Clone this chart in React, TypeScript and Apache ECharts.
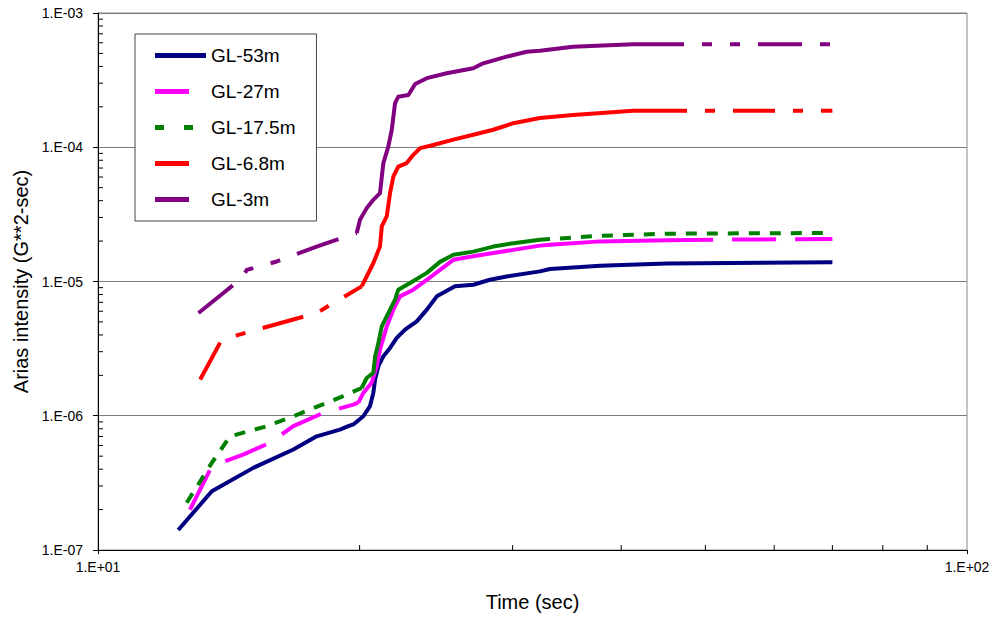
import React, { useEffect, useRef } from 'react';
import * as echarts from 'echarts';

// ---- Data ----
const xMin = 10;
const xMax = 100;
const yMin = 1e-7;
const yMax = 1e-3;

const seriesNames = ['GL-53m', 'GL-27m', 'GL-17.5m', 'GL-6.8m', 'GL-3m'];

const gl53T = [12.37, 13.52, 15.09, 16.78, 17.85, 18.98, 19.41, 19.67, 20.2, 20.56, 20.74, 20.84, 21.02, 21.3, 21.68, 22.07, 22.56, 23.27, 23.9, 24.54, 25.75, 27.03, 28.25, 29.53, 32.25, 33.12, 37.82, 45.16, 70.0];
const gl53I = [1.41e-7, 2.74e-7, 4.09e-7, 5.61e-7, 7.03e-7, 7.89e-7, 8.36e-7, 8.61e-7, 9.91e-7, 1.18e-6, 1.48e-6, 1.86e-6, 2.34e-6, 2.77e-6, 3.2e-6, 3.8e-6, 4.38e-6, 5.05e-6, 6.17e-6, 7.75e-6, 9.2e-6, 9.46e-6, 1.03e-5, 1.09e-5, 1.19e-5, 1.24e-5, 1.31e-5, 1.36e-5, 1.39e-5];

const gl27T = [12.76, 13.52, 14.69, 15.77, 16.78, 18.16, 19.67, 19.93, 20.2, 20.65, 20.93, 21.11, 21.49, 21.87, 22.26, 23.06, 23.9, 24.75, 25.64, 27.03, 28.5, 30.05, 32.25, 33.12, 37.82, 45.16, 51.03, 70.0];
const gl27I = [2.0e-7, 4.21e-7, 5.14e-7, 6.29e-7, 8.36e-7, 1.05e-6, 1.21e-6, 1.25e-6, 1.48e-6, 1.76e-6, 2.34e-6, 3.11e-6, 4.63e-6, 6.17e-6, 7.75e-6, 8.69e-6, 1.03e-5, 1.22e-5, 1.45e-5, 1.54e-5, 1.63e-5, 1.72e-5, 1.85e-5, 1.88e-5, 1.99e-5, 2.03e-5, 2.05e-5, 2.07e-5];
const gl27Dense = [19.93, 51.03];

const gl175T = [12.65, 13.52, 14.19, 15.64, 16.78, 19.15, 20.11, 20.38, 20.74, 20.84, 21.02, 21.21, 21.49, 21.97, 22.16, 22.86, 23.9, 24.75, 25.64, 27.03, 28.5, 30.05, 32.25, 33.12, 37.82, 45.16, 70.0];
const gl175I = [2.25e-7, 4.46e-7, 7.03e-7, 8.36e-7, 9.91e-7, 1.4e-6, 1.61e-6, 1.91e-6, 2.09e-6, 2.77e-6, 3.49e-6, 4.63e-6, 5.5e-6, 7.32e-6, 8.69e-6, 9.75e-6, 1.16e-5, 1.4e-5, 1.58e-5, 1.67e-5, 1.82e-5, 1.93e-5, 2.05e-5, 2.07e-5, 2.19e-5, 2.27e-5, 2.3e-5];
const gl175Dense = [20.11, 33.12];

const gl68T = [13.11, 13.88, 15.23, 17.85, 20.11, 20.38, 20.74, 21.11, 21.21, 21.49, 21.68, 21.87, 22.16, 22.66, 23.06, 23.48, 24.31, 25.64, 27.03, 28.5, 30.05, 32.25, 35.21, 41.27, 47.62, 70.0];
const gl68I = [1.86e-6, 3.69e-6, 4.38e-6, 5.83e-6, 9.2e-6, 1.09e-5, 1.37e-5, 1.82e-5, 2.57e-5, 3.05e-5, 4.55e-5, 6.05e-5, 7.18e-5, 7.62e-5, 8.78e-5, 9.85e-5, 1.04e-4, 1.14e-4, 1.24e-4, 1.35e-4, 1.51e-4, 1.65e-4, 1.74e-4, 1.87e-4, 1.87e-4, 1.87e-4];
const gl68Dense = [20.11, 47.62];

const gl3T = [13.05, 13.94, 14.64, 14.83, 16.06, 17.85, 19.85, 20.02, 20.38, 20.74, 21.11, 21.3, 21.58, 21.78, 21.97, 22.16, 22.76, 23.17, 23.9, 25.19, 27.03, 27.75, 29.53, 31.13, 32.25, 35.21, 41.27, 47.24, 70.0];
const gl3I = [5.83e-6, 8.21e-6, 1.06e-5, 1.22e-5, 1.41e-5, 1.82e-5, 2.3e-5, 2.88e-5, 3.52e-5, 4.06e-5, 4.55e-5, 7.62e-5, 1.01e-4, 1.35e-4, 2.13e-4, 2.38e-4, 2.45e-4, 2.96e-4, 3.27e-4, 3.56e-4, 3.88e-4, 4.22e-4, 4.73e-4, 5.15e-4, 5.24e-4, 5.61e-4, 5.85e-4, 5.85e-4, 5.85e-4];
const gl3Dense = [19.85, 47.24];

const xMinorTicks = [20, 30, 40, 50, 60, 70, 80, 90];
const yMinorTicks = [
  2e-7, 3e-7, 4e-7, 5e-7, 6e-7, 7e-7, 8e-7, 9e-7,
  2e-6, 3e-6, 4e-6, 5e-6, 6e-6, 7e-6, 8e-6, 9e-6,
  2e-5, 3e-5, 4e-5, 5e-5, 6e-5, 7e-5, 8e-5, 9e-5,
  2e-4, 3e-4, 4e-4, 5e-4, 6e-4, 7e-4, 8e-4, 9e-4,
];

// ---- Helpers ----
const FONT = '"Liberation Sans", Arial, sans-serif';

const pairs = (t: number[], v: number[]) => t.map((x, i) => [x, v[i]]);
const seg = (t: number[], v: number[], from: number, to: number) =>
  pairs(t, v).filter((p) => p[0] >= from && p[0] <= to);

const sciLabel = (val: number) => {
  const e = Math.round(Math.log10(val));
  const sign = e < 0 ? '-' : '+';
  return `1.E${sign}${String(Math.abs(e)).padStart(2, '0')}`;
};

const line = (name: string, color: string, data: number[][], type: any, dashOffset = 0) => ({
  type: 'line',
  name,
  data,
  symbol: 'none',
  showSymbol: false,
  silent: true,
  z: 3,
  itemStyle: { color },
  lineStyle: { color, width: 4, type, dashOffset, cap: 'butt', join: 'round' },
});

// legend icon shapes (solid bar, short bar, dashed bar); trailing zero-length
// segment keeps the icon box at the full item width
const ICON_FULL = 'path://M0,0H51V5H0Z';
const ICON_SHORT = 'path://M0,0H34V5H0Z M51,5L51,5';
const ICON_DASHED = 'path://M0,0H9V5H0Z M29,0H38V5H29Z M51,5L51,5';

export default function App() {
  const ref = useRef<HTMLDivElement>(null);

  useEffect(() => {
    if (!ref.current) return;
    const chart = echarts.init(ref.current, null, { renderer: 'svg' });

    const colors = {
      'GL-53m': '#000080',
      'GL-27m': '#FF00FF',
      'GL-17.5m': '#008000',
      'GL-6.8m': '#FF0000',
      'GL-3m': '#800080',
    } as Record<string, string>;

    const dash27 = [44, 19];
    const dash175 = [11, 10];
    const dash68 = [42, 18, 10, 18];
    const dash3 = [44, 18, 10, 18, 10, 18];

    const series: any[] = [
      line('GL-53m', colors['GL-53m'], pairs(gl53T, gl53I), 'solid'),

      line('GL-27m', colors['GL-27m'], seg(gl27T, gl27I, gl27Dense[0], gl27Dense[1]), 'solid'),
      line('GL-27m', colors['GL-27m'], seg(gl27T, gl27I, 0, gl27Dense[0]), dash27),
      line('GL-27m', colors['GL-27m'], seg(gl27T, gl27I, gl27Dense[1], 1000), dash27, 44),

      line('GL-17.5m', colors['GL-17.5m'], seg(gl175T, gl175I, gl175Dense[0], gl175Dense[1]), 'solid'),
      line('GL-17.5m', colors['GL-17.5m'], seg(gl175T, gl175I, 0, gl175Dense[0]), dash175),
      line('GL-17.5m', colors['GL-17.5m'], seg(gl175T, gl175I, gl175Dense[1], 1000), dash175, 11),

      line('GL-6.8m', colors['GL-6.8m'], seg(gl68T, gl68I, gl68Dense[0], gl68Dense[1]), 'solid'),
      line('GL-6.8m', colors['GL-6.8m'], seg(gl68T, gl68I, 0, gl68Dense[0]), dash68),
      line('GL-6.8m', colors['GL-6.8m'], seg(gl68T, gl68I, gl68Dense[1], 1000), dash68, 42),

      line('GL-3m', colors['GL-3m'], seg(gl3T, gl3I, gl3Dense[0], gl3Dense[1]), 'solid'),
      line('GL-3m', colors['GL-3m'], seg(gl3T, gl3I, 0, gl3Dense[0]), dash3),
      line('GL-3m', colors['GL-3m'], seg(gl3T, gl3I, gl3Dense[1], 1000), dash3, 44),

      {
        type: 'custom',
        name: 'xMinor',
        silent: true,
        clip: false,
        z: 5,
        data: xMinorTicks.map((v) => [v, yMin]),
        renderItem: (_p: any, api: any) => {
          const pt = api.coord([api.value(0), api.value(1)]);
          return {
            type: 'line',
            shape: { x1: pt[0], y1: pt[1], x2: pt[0], y2: pt[1] - 5 },
            style: { stroke: '#000', lineWidth: 1 },
          };
        },
      },
      {
        type: 'custom',
        name: 'yMinor',
        silent: true,
        clip: false,
        z: 5,
        data: yMinorTicks.map((v) => [xMin, v]),
        renderItem: (_p: any, api: any) => {
          const pt = api.coord([api.value(0), api.value(1)]);
          return {
            type: 'line',
            shape: { x1: pt[0], y1: pt[1], x2: pt[0] + 5, y2: pt[1] },
            style: { stroke: '#000', lineWidth: 1 },
          };
        },
      },
    ];

    const legendIcons: Record<string, string> = {
      'GL-53m': ICON_FULL,
      'GL-27m': ICON_SHORT,
      'GL-17.5m': ICON_DASHED,
      'GL-6.8m': ICON_SHORT,
      'GL-3m': ICON_SHORT,
    };

    chart.setOption({
      animation: false,
      backgroundColor: '#fff',
      textStyle: { fontFamily: FONT },
      grid: {
        left: 98,
        top: 13,
        right: 30,
        bottom: 70,
        show: true,
        borderColor: '#888',
        borderWidth: 1,
        backgroundColor: 'transparent',
      },
      legend: {
        orient: 'vertical',
        left: 135,
        top: 34,
        padding: [12, 21, 12, 20],
        itemGap: 17,
        itemWidth: 51,
        itemHeight: 5,
        backgroundColor: '#fff',
        borderColor: '#444',
        borderWidth: 1,
        borderRadius: 0,
        selectedMode: false,
        itemStyle: { borderWidth: 0 },
        textStyle: { fontFamily: FONT, fontSize: 19, lineHeight: 19, color: '#000' },
        data: seriesNames.map((n) => ({
          name: n,
          icon: legendIcons[n],
          itemStyle: { color: colors[n], borderWidth: 0 },
        })),
      },
      xAxis: {
        type: 'log',
        logBase: 10,
        min: xMin,
        max: xMax,
        interval: 1,
        name: 'Time (sec)',
        nameLocation: 'middle',
        nameGap: 42,
        nameTextStyle: { fontFamily: FONT, fontSize: 20, color: '#000' },
        axisLine: { show: true, onZero: false, lineStyle: { color: '#000', width: 1 } },
        axisTick: { show: true, inside: false, length: 4, lineStyle: { color: '#000' } },
        axisLabel: { formatter: sciLabel, fontFamily: FONT, fontSize: 14, color: '#000', margin: 10 },
        splitLine: { show: false },
        minorTick: { show: false },
      },
      yAxis: {
        type: 'log',
        logBase: 10,
        min: yMin,
        max: yMax,
        interval: 1,
        name: 'Arias intensity (G**2-sec)',
        nameLocation: 'middle',
        nameGap: 57,
        nameTextStyle: { fontFamily: FONT, fontSize: 20, color: '#000' },
        axisLine: { show: true, onZero: false, lineStyle: { color: '#000', width: 1 } },
        axisTick: { show: true, inside: false, length: 5, lineStyle: { color: '#000' } },
        axisLabel: { formatter: sciLabel, fontFamily: FONT, fontSize: 14, color: '#000', margin: 15 },
        splitLine: { show: true, lineStyle: { color: '#7a7a7a', width: 1 } },
        minorTick: { show: false },
      },
      series,
    });

    return () => chart.dispose();
  }, []);

  return (
    <div
      ref={ref}
      style={{ position: 'fixed', left: 0, top: 0, width: 997, height: 620, background: '#fff' }}
    />
  );
}
